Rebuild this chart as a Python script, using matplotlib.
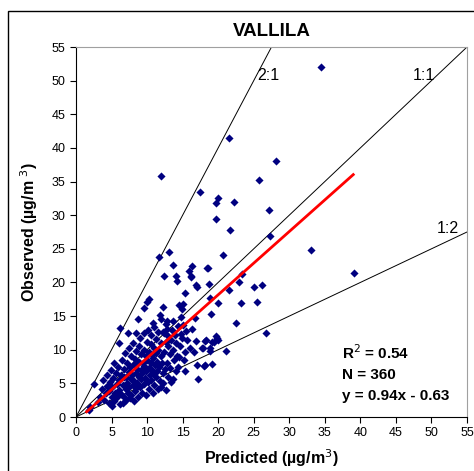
import matplotlib
matplotlib.use("Agg")
import matplotlib.pyplot as plt
from matplotlib.patches import Rectangle
import numpy as np

plt.rcParams["font.family"] = ["Liberation Sans", "DejaVu Sans"]

# predicted / observed pairs (ug/m3)
pred = [
    1.8, 2.0, 2.5,
    3.1, 3.4, 3.6, 3.8, 4.0, 4.2, 4.3, 4.4, 4.6, 4.7, 4.8, 4.9, 5.0, 5.0, 5.1, 5.2, 5.3, 5.4, 5.5, 5.6,
    5.7, 5.8, 5.9, 6.0, 6.0, 6.1, 6.2, 6.2, 6.3, 6.4, 6.5, 6.6, 6.6, 6.7, 6.8, 6.8, 6.9, 7.0, 7.0, 7.1,
    7.2, 7.2, 7.3, 7.3, 7.4, 7.5, 7.5, 7.6, 7.6, 7.7, 7.8, 7.8, 7.9, 8.0, 8.0, 8.1, 8.1, 8.2, 8.3, 8.3,
    8.4, 8.4, 8.5, 8.5,
    8.6, 8.6, 8.7, 8.7, 8.8, 8.8, 8.9, 9.0, 9.0, 9.1, 9.1, 9.2, 9.3, 9.3, 9.4, 9.5, 9.5, 9.6, 9.6, 9.6,
    9.7, 9.8, 9.8, 9.9, 10.0, 10.0, 10.0,
    10.1, 10.1, 10.2, 10.3, 10.3, 10.3, 10.4, 10.5, 10.5, 10.6, 10.6, 10.7, 10.7, 10.8, 10.8, 10.9, 10.9,
    11.0, 11.0, 11.0, 11.1, 11.2, 11.2, 11.3, 11.4, 11.4, 11.5, 11.5,
    11.6, 11.7, 11.7, 11.8, 11.8, 11.9, 11.9, 12.0, 12.0, 12.0, 12.1, 12.2, 12.2, 12.2, 12.3, 12.4, 12.4,
    12.4, 12.5, 12.6, 12.6, 12.7, 12.8, 12.8, 12.8, 12.9, 13.0, 13.0,
    13.1, 13.2, 13.2, 13.3, 13.4, 13.5, 13.6, 13.6, 13.6, 13.7, 13.8, 13.9, 14.0, 14.1, 14.1, 14.2, 14.2,
    14.3, 14.4, 14.5, 14.5, 14.6, 14.7, 14.8, 14.9, 14.9, 15.0, 15.0,
    15.2, 15.3, 15.3, 15.3, 15.5, 15.6, 15.9, 16.0, 16.2, 16.2, 16.3, 16.3, 16.6, 16.7, 16.9, 16.9, 17.0,
    17.0, 17.2, 17.4,
    17.7, 17.9, 18.0, 18.1, 18.1, 18.3, 18.4, 18.6, 18.7, 18.8, 18.8, 18.8, 19.0, 19.1, 19.1, 19.4, 19.7,
    19.7, 19.7, 19.8, 20.0, 20.0, 20.0,
    20.7, 21.1, 21.5, 21.5, 21.7, 22.2, 22.5, 22.9, 23.2, 23.4, 25.0, 25.5, 25.7, 26.1, 26.7, 27.1, 27.3,
    28.2, 33.1, 34.5, 39.1,
]
obs = [
    1.0, 1.5, 4.9,
    2.2, 3.0, 4.1, 5.5, 2.6, 3.5, 4.6, 6.2, 2.1, 3.9, 5.2, 7.0, 1.6, 3.0, 4.4, 5.8, 8.0, 2.4, 3.6, 6.6,
    4.9, 2.9, 7.5, 11.0, 4.0, 5.5, 13.2, 2.0, 3.4, 6.3, 8.4, 2.1, 4.7, 5.9, 3.0, 7.2, 9.5, 4.2, 6.0, 2.6,
    5.1, 8.0, 12.5, 3.6, 6.7, 10.2, 4.5, 2.8, 7.4, 5.6, 9.0, 3.3, 6.2, 11.0, 4.8, 7.9, 2.4, 5.4, 8.6, 3.9,
    12.5, 6.6, 4.3, 9.8,
    7.2, 5.0, 14.6, 3.0, 10.6, 6.0, 8.2, 4.5, 11.8, 7.0, 5.6, 9.3, 3.6, 6.5, 8.0, 10.0, 4.9, 12.5, 16.2, 7.6,
    5.8, 9.0, 3.2, 6.8, 17.1, 11.2, 8.4,
    5.2, 13.0, 7.3, 17.5, 9.6, 4.1, 6.2, 10.8, 8.1, 5.5, 12.2, 7.0, 9.2, 3.5, 14.0, 6.5, 8.8,
    13.4, 10.3, 4.8, 7.7, 11.6, 5.9, 9.5, 8.2, 6.8, 12.7, 4.2,
    10.0, 23.8, 7.4, 15.2, 5.3, 9.0, 35.8, 14.6, 4.5, 11.0, 8.0, 16.3, 5.1, 6.5, 12.6, 12.5, 21.0,
    9.7, 7.2, 11.2, 4.0, 13.8, 14.3, 13.1, 8.0, 10.5, 6.0, 12.0,
    24.5, 7.3, 9.3, 11.5, 5.2, 13.0, 22.6, 14.3, 5.6, 10.0, 8.5, 12.2, 6.8, 21.0, 11.0, 20.2, 9.0,
    13.5, 7.5, 16.6, 8.9, 10.6, 12.3, 14.9, 16.0, 11.7, 16.8, 13.7,
    8.5, 18.4, 9.7, 6.8, 12.8, 11.4, 21.7, 10.2, 21.0, 20.8, 22.4, 13.1, 9.7, 14.7, 19.6, 11.3, 7.7,
    19.3, 5.6, 33.4,
    10.3, 10.3, 7.6, 11.3, 7.7, 11.4, 22.2, 22.1, 19.7, 9.8, 17.7, 10.3, 15.3, 11.1, 7.9, 11.1, 31.8,
    29.4, 12.0, 11.7, 32.5, 17.0, 11.4,
    24.1, 9.8, 18.9, 41.5, 27.8, 31.9, 13.9, 20.0, 16.9, 21.2, 19.3, 17.1, 35.2, 19.6, 12.5, 30.8, 26.9,
    38.0, 24.8, 52.0, 21.4,
]

slope = 0.94
intercept = -0.63
r2 = 0.54
n_obs = 360
fit_range = [1.5, 39.0]

fig = plt.figure(figsize=(4.74, 4.71), dpi=100)
fig.patches.append(Rectangle((8 / 474, -0.05), 1.1, 1 - 11 / 471 + 0.05,
                             transform=fig.transFigure, fill=False,
                             edgecolor="black", linewidth=1.0))

ax = fig.add_axes([76 / 474, 54 / 471, 391 / 474, 370 / 471])

lim = 55
xs = np.array([0, lim])
ax.plot(xs, xs, color="black", lw=0.7)
ax.plot(xs, 2 * xs, color="black", lw=0.7)
ax.plot(xs, 0.5 * xs, color="black", lw=0.7)

ax.scatter(pred, obs, marker="D", s=17, color="#000080", linewidths=0, zorder=3)

fx = np.array(fit_range)
ax.plot(fx, slope * fx + intercept, color="red", lw=2.0, zorder=4)

ax.text(27.0, 50.7, "2:1", fontsize=11.5, ha="center", va="center")
ax.text(49.0, 50.7, "1:1", fontsize=11.5, ha="center", va="center")
ax.text(52.3, 28.0, "1:2", fontsize=11.5, ha="center", va="center")

ax.text(37.4, 9.6, f"R$^{{2}}$ = {r2:.2f}", fontsize=11,
        fontweight="bold", va="center")
ax.text(37.4, 6.3, f"N = {n_obs}", fontsize=11, fontweight="bold", va="center")
ax.text(37.4, 3.1, f"y = {slope:.2f}x - {abs(intercept):.2f}", fontsize=11,
        fontweight="bold", va="center")

ax.set_xlim(0, lim)
ax.set_ylim(0, lim)
ax.set_xticks(range(0, 56, 5))
ax.set_yticks(range(0, 56, 5))
ax.tick_params(labelsize=9, length=4, direction="out", width=0.8)
for s in ["top", "right"]:
    ax.spines[s].set_color("#a0a0a0")
for s in ["left", "bottom"]:
    ax.spines[s].set_color("black")

ax.set_title("VALLILA", fontsize=13.5, fontweight="bold", pad=8)
ax.set_xlabel("Predicted (µg/m$^{3}$)", fontsize=11.5, fontweight="bold", labelpad=6)
ax.set_ylabel("Observed (µg/m $^{3}$)", fontsize=11.5, fontweight="bold", labelpad=8)

fig.savefig("out.png", dpi=100)
